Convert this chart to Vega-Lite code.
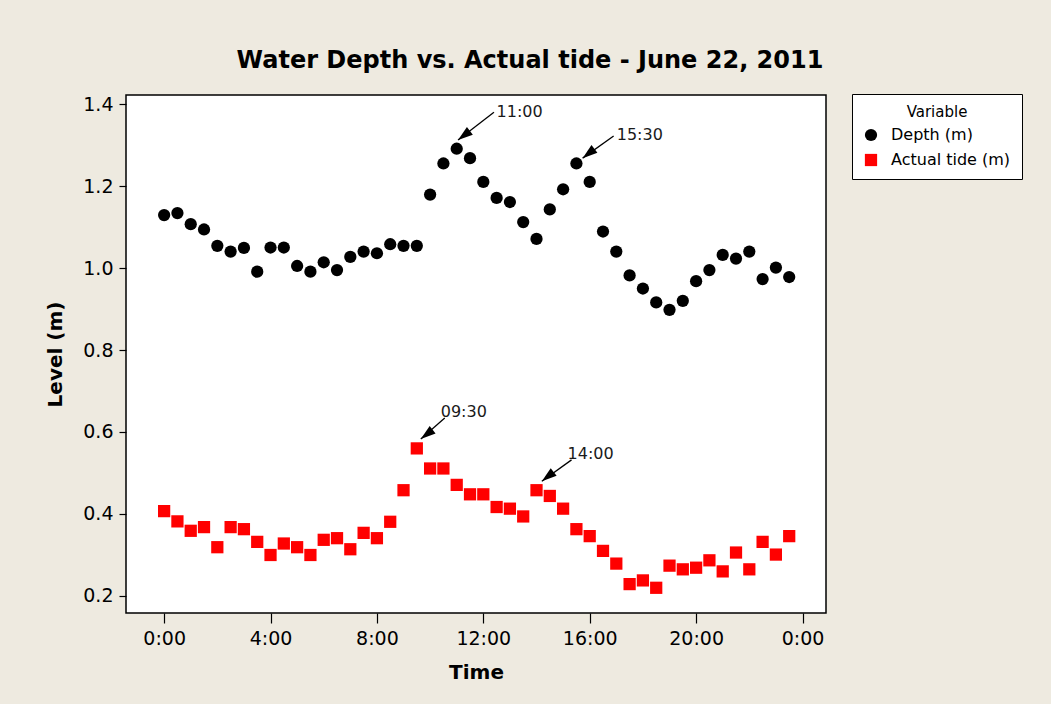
{
  "$schema": "https://vega.github.io/schema/vega-lite/v6.json",
  "width": 700,
  "height": 518,
  "autosize": {"type": "none"},
  "padding": {"left": 126, "top": 95, "right": 225, "bottom": 91},
  "background": "#EEEAE0",
  "title": {
    "text": "Water Depth  vs. Actual tide -  June 22, 2011",
    "font": "DejaVu Sans",
    "fontSize": 24,
    "fontWeight": "bold",
    "color": "#000000",
    "anchor": "middle",
    "dx": 54,
    "offset": 21
  },
  "config": {
    "view": {"fill": "white", "stroke": "black", "strokeWidth": 1.5},
    "axis": {
      "domain": false,
      "grid": false,
      "tickColor": "#000000",
      "tickWidth": 1.2,
      "labelFont": "DejaVu Sans",
      "labelFontSize": 19,
      "labelColor": "#000000",
      "titleFont": "DejaVu Sans",
      "titleFontSize": 20,
      "titleFontWeight": "bold",
      "titleColor": "#000000"
    }
  },
  "datasets": {
    "readings": [
      {"time": "2011-06-22T00:00", "Depth (m)": 1.129, "Actual tide (m)": 0.407},
      {"time": "2011-06-22T00:30", "Depth (m)": 1.134, "Actual tide (m)": 0.382},
      {"time": "2011-06-22T01:00", "Depth (m)": 1.107, "Actual tide (m)": 0.359},
      {"time": "2011-06-22T01:30", "Depth (m)": 1.094, "Actual tide (m)": 0.368},
      {"time": "2011-06-22T02:00", "Depth (m)": 1.054, "Actual tide (m)": 0.319},
      {"time": "2011-06-22T02:30", "Depth (m)": 1.040, "Actual tide (m)": 0.368},
      {"time": "2011-06-22T03:00", "Depth (m)": 1.049, "Actual tide (m)": 0.363},
      {"time": "2011-06-22T03:30", "Depth (m)": 0.991, "Actual tide (m)": 0.332},
      {"time": "2011-06-22T04:00", "Depth (m)": 1.050, "Actual tide (m)": 0.300},
      {"time": "2011-06-22T04:30", "Depth (m)": 1.050, "Actual tide (m)": 0.328},
      {"time": "2011-06-22T05:00", "Depth (m)": 1.005, "Actual tide (m)": 0.319},
      {"time": "2011-06-22T05:30", "Depth (m)": 0.991, "Actual tide (m)": 0.300},
      {"time": "2011-06-22T06:00", "Depth (m)": 1.014, "Actual tide (m)": 0.337},
      {"time": "2011-06-22T06:30", "Depth (m)": 0.995, "Actual tide (m)": 0.341},
      {"time": "2011-06-22T07:00", "Depth (m)": 1.027, "Actual tide (m)": 0.314},
      {"time": "2011-06-22T07:30", "Depth (m)": 1.040, "Actual tide (m)": 0.354},
      {"time": "2011-06-22T08:00", "Depth (m)": 1.036, "Actual tide (m)": 0.341},
      {"time": "2011-06-22T08:30", "Depth (m)": 1.058, "Actual tide (m)": 0.381},
      {"time": "2011-06-22T09:00", "Depth (m)": 1.054, "Actual tide (m)": 0.458},
      {"time": "2011-06-22T09:30", "Depth (m)": 1.054, "Actual tide (m)": 0.560},
      {"time": "2011-06-22T10:00", "Depth (m)": 1.179, "Actual tide (m)": 0.511},
      {"time": "2011-06-22T10:30", "Depth (m)": 1.255, "Actual tide (m)": 0.511},
      {"time": "2011-06-22T11:00", "Depth (m)": 1.291, "Actual tide (m)": 0.471},
      {"time": "2011-06-22T11:30", "Depth (m)": 1.268, "Actual tide (m)": 0.448},
      {"time": "2011-06-22T12:00", "Depth (m)": 1.210, "Actual tide (m)": 0.448},
      {"time": "2011-06-22T12:30", "Depth (m)": 1.171, "Actual tide (m)": 0.417},
      {"time": "2011-06-22T13:00", "Depth (m)": 1.161, "Actual tide (m)": 0.413},
      {"time": "2011-06-22T13:30", "Depth (m)": 1.112, "Actual tide (m)": 0.394},
      {"time": "2011-06-22T14:00", "Depth (m)": 1.071, "Actual tide (m)": 0.458},
      {"time": "2011-06-22T14:30", "Depth (m)": 1.143, "Actual tide (m)": 0.444},
      {"time": "2011-06-22T15:00", "Depth (m)": 1.192, "Actual tide (m)": 0.413},
      {"time": "2011-06-22T15:30", "Depth (m)": 1.255, "Actual tide (m)": 0.363},
      {"time": "2011-06-22T16:00", "Depth (m)": 1.210, "Actual tide (m)": 0.346},
      {"time": "2011-06-22T16:30", "Depth (m)": 1.089, "Actual tide (m)": 0.310},
      {"time": "2011-06-22T17:00", "Depth (m)": 1.040, "Actual tide (m)": 0.279},
      {"time": "2011-06-22T17:30", "Depth (m)": 0.982, "Actual tide (m)": 0.229},
      {"time": "2011-06-22T18:00", "Depth (m)": 0.950, "Actual tide (m)": 0.238},
      {"time": "2011-06-22T18:30", "Depth (m)": 0.916, "Actual tide (m)": 0.220},
      {"time": "2011-06-22T19:00", "Depth (m)": 0.898, "Actual tide (m)": 0.274},
      {"time": "2011-06-22T19:30", "Depth (m)": 0.920, "Actual tide (m)": 0.265},
      {"time": "2011-06-22T20:00", "Depth (m)": 0.968, "Actual tide (m)": 0.269},
      {"time": "2011-06-22T20:30", "Depth (m)": 0.995, "Actual tide (m)": 0.287},
      {"time": "2011-06-22T21:00", "Depth (m)": 1.032, "Actual tide (m)": 0.260},
      {"time": "2011-06-22T21:30", "Depth (m)": 1.023, "Actual tide (m)": 0.306},
      {"time": "2011-06-22T22:00", "Depth (m)": 1.040, "Actual tide (m)": 0.265},
      {"time": "2011-06-22T22:30", "Depth (m)": 0.973, "Actual tide (m)": 0.332},
      {"time": "2011-06-22T23:00", "Depth (m)": 1.001, "Actual tide (m)": 0.301},
      {"time": "2011-06-22T23:30", "Depth (m)": 0.978, "Actual tide (m)": 0.346}
    ],
    "notes": [
      {"label": "11:00", "tip_t": "2011-06-22T11:03", "tip_v": 1.312, "tail_t": "2011-06-22T12:24", "tail_v": 1.380, "text_t": "2011-06-22T12:30", "text_v": 1.380},
      {"label": "15:30", "tip_t": "2011-06-22T15:44", "tip_v": 1.268, "tail_t": "2011-06-22T16:54", "tail_v": 1.322, "text_t": "2011-06-22T17:01", "text_v": 1.324},
      {"label": "09:30", "tip_t": "2011-06-22T09:39", "tip_v": 0.583, "tail_t": "2011-06-22T10:33", "tail_v": 0.634, "text_t": "2011-06-22T10:24", "text_v": 0.649},
      {"label": "14:00", "tip_t": "2011-06-22T14:12", "tip_v": 0.480, "tail_t": "2011-06-22T15:19", "tail_v": 0.532, "text_t": "2011-06-22T15:10", "text_v": 0.546}
    ]
  },
  "layer": [
    {
      "data": {"name": "readings"},
      "transform": [{"fold": ["Depth (m)", "Actual tide (m)"], "as": ["variable", "level"]}],
      "mark": {"type": "point", "filled": true, "opacity": 1, "strokeWidth": 0, "size": 150},
      "encoding": {
        "x": {
          "field": "time", "type": "temporal",
          "scale": {"domain": [{"year": 2011, "month": 6, "date": 21, "hours": 22, "minutes": 34}, {"year": 2011, "month": 6, "date": 23, "hours": 0, "minutes": 53}]},
          "axis": {
            "title": "Time",
            "format": "%-H:%M",
            "values": [
              {"year": 2011, "month": 6, "date": 22, "hours": 0},
              {"year": 2011, "month": 6, "date": 22, "hours": 4},
              {"year": 2011, "month": 6, "date": 22, "hours": 8},
              {"year": 2011, "month": 6, "date": 22, "hours": 12},
              {"year": 2011, "month": 6, "date": 22, "hours": 16},
              {"year": 2011, "month": 6, "date": 22, "hours": 20},
              {"year": 2011, "month": 6, "date": 23, "hours": 0}
            ],
            "tickSize": 10,
            "labelPadding": 6,
            "titlePadding": 14,
            "labelFlush": false,
            "labelOverlap": false
          }
        },
        "y": {
          "field": "level", "type": "quantitative",
          "scale": {"domain": [0.1585, 1.422], "nice": false, "zero": false},
          "axis": {
            "title": "Level (m)",
            "values": [0.2, 0.4, 0.6, 0.8, 1.0, 1.2, 1.4],
            "format": ".1f",
            "tickSize": 7,
            "labelPadding": 6,
            "titlePadding": 17
          }
        },
        "color": {
          "field": "variable", "type": "nominal",
          "scale": {"domain": ["Depth (m)", "Actual tide (m)"], "range": ["#000000", "#FF0000"]},
          "legend": {
            "title": "Variable",
            "orient": "none",
            "legendX": 726,
            "legendY": -1,
            "fillColor": "white",
            "strokeColor": "black",
            "padding": 11,
            "titleFont": "DejaVu Sans",
            "titleFontSize": 15,
            "titleFontWeight": "normal",
            "titleColor": "#000000",
            "titlePadding": 7,
            "titleAnchor": "middle",
            "labelFont": "DejaVu Sans",
            "labelFontSize": 16,
            "labelColor": "#000000",
            "labelOffset": 12,
            "symbolSize": 150,
            "symbolStrokeWidth": 0,
            "rowPadding": 9
          }
        },
        "shape": {
          "field": "variable", "type": "nominal",
          "scale": {"domain": ["Depth (m)", "Actual tide (m)"], "range": ["circle", "square"]}
        }
      }
    },
    {
      "data": {"name": "notes"},
      "mark": {"type": "rule", "color": "#000000", "strokeWidth": 1.3},
      "encoding": {
        "x": {"field": "tail_t", "type": "temporal"},
        "y": {"field": "tail_v", "type": "quantitative"},
        "x2": {"field": "tip_t"},
        "y2": {"field": "tip_v"}
      }
    },
    {
      "data": {"name": "notes"},
      "mark": {"type": "point", "shape": "M0,0L-0.32,1L0.32,1Z", "filled": true, "color": "#000000", "opacity": 1, "size": 900, "angle": 232, "strokeWidth": 0},
      "encoding": {
        "x": {"field": "tip_t", "type": "temporal"},
        "y": {"field": "tip_v", "type": "quantitative"}
      }
    },
    {
      "data": {"name": "notes"},
      "mark": {"type": "text", "align": "left", "baseline": "middle", "font": "DejaVu Sans", "fontSize": 16, "color": "#1a1a1a"},
      "encoding": {
        "x": {"field": "text_t", "type": "temporal"},
        "y": {"field": "text_v", "type": "quantitative"},
        "text": {"field": "label"}
      }
    }
  ]
}
